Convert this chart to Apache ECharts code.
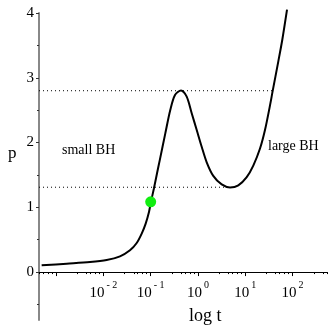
<!DOCTYPE html>
<html><head><meta charset="utf-8">
<script src="https://cdn.jsdelivr.net/npm/echarts@6/dist/echarts.min.js"></script>
<style>html,body{margin:0;padding:0;background:#fff}#c{width:332px;height:332px}</style>
</head><body><div id="c"></div>
<script>
// curve: x = log10(t), y = p
const logT = [-3.305,-2.775,-2.283,-1.930,-1.649,-1.438,-1.296,-1.190,-1.106,-1.036,-0.994,-0.932,-0.867,-0.808,-0.691,-0.586,-0.486,-0.359,-0.239,-0.133,-0.027,0.078,0.184,0.323,0.501,0.677,0.852,1.030,1.169,1.311,1.416,1.522,1.579,1.698,1.782,1.882];
const pVals = [0.104,0.130,0.155,0.186,0.243,0.336,0.449,0.594,0.749,0.929,1.084,1.291,1.523,1.729,2.142,2.503,2.735,2.805,2.709,2.452,2.193,1.935,1.695,1.485,1.353,1.307,1.339,1.466,1.644,1.907,2.193,2.573,2.797,3.254,3.587,4.051];
// dotted levels and where they end (log t)
const levelP = [2.8, 1.31];
const levelEnd = [1.579, 0.677];
// highlighted point
const dotLogT = [-1];
const dotP = [1.084];
// axes
const xMin = -3.361, xMax = 2.727;
const yMin = -0.74, yMax = 4;
const xMajor = [-3, -2, -1, 0, 1, 2];
const xLabeled = [-2, -1, 0, 1, 2];
const xSup = {'-2': '- 2', '-1': '- 1', '0': '0', '1': '1', '2': '2'};
const minorMult = [2.8, 4.4, 5.3, 6.7, 8.2];
const yMajor = [0, 1, 2, 3, 4];
const yMinor = [-0.5, 0.5, 1.5, 2.5, 3.5];

const xMinor = [];
for (let d = -4; d <= 2; d++) for (const m of minorMult) {
  const v = d + Math.log10(m);
  if (v > xMin && v < xMax) xMinor.push(v);
}
const serif = 'Liberation Serif';
const gridTop = 13, gridH = 307;
// x axis sits at p = 0: offset up from the grid bottom
const zeroOffset = -gridH * (0 - yMin) / (yMax - yMin);
const chart = echarts.init(document.getElementById('c'), null, {renderer: 'canvas'});
const curve = logT.map((x, i) => [x, pVals[i]]);
const levelSeries = levelP.map((p, i) => ({
  type: 'line', data: [[xMin, p], [levelEnd[i], p]], symbol: 'none', silent: true,
  lineStyle: {color: '#000', width: 1, type: [1, 3]}, z: 1
}));
chart.setOption({
  animation: false,
  grid: {left: 39, top: gridTop, width: 288, height: gridH, containLabel: false, outerBoundsMode: 'none'},
  xAxis: [{
    type: 'value', min: xMin, max: xMax, position: 'bottom', offset: zeroOffset,
    axisLine: {onZero: false, lineStyle: {color: '#000', width: 1}},
    axisTick: {show: true, length: 4, customValues: xMajor, lineStyle: {color: '#000'}},
    axisLabel: {
      customValues: xLabeled, margin: 8,
      formatter: v => '{b|10}{s|' + xSup[String(Math.round(v))] + '}',
      rich: {
        b: {fontFamily: serif, fontSize: 15, color: '#000', verticalAlign: 'bottom', lineHeight: 20},
        s: {fontFamily: serif, fontSize: 10, color: '#000', verticalAlign: 'top', padding: [0, 0, 0, 2], lineHeight: 12}
      }
    },
    splitLine: {show: false}
  }, {
    type: 'value', min: xMin, max: xMax, position: 'bottom', offset: zeroOffset,
    axisLine: {onZero: false, show: false},
    axisTick: {show: true, length: 2, customValues: xMinor, lineStyle: {color: '#000'}},
    axisLabel: {show: false}, splitLine: {show: false}
  }],
  yAxis: [{
    type: 'value', min: yMin, max: yMax, position: 'left',
    axisLine: {onZero: false, lineStyle: {color: '#888', width: 2}},
    axisTick: {show: true, length: 3, customValues: yMajor, lineStyle: {color: '#333'}},
    axisLabel: {customValues: yMajor, margin: 5, fontFamily: serif, fontSize: 15, color: '#000'},
    splitLine: {show: false}
  }, {
    type: 'value', min: yMin, max: yMax, position: 'left',
    axisLine: {onZero: false, show: false},
    axisTick: {show: true, length: 2, customValues: yMinor, lineStyle: {color: '#333'}},
    axisLabel: {show: false}, splitLine: {show: false}
  }],
  graphic: [
    {type: 'text', left: 8, top: 145, style: {text: 'p', font: '17px "Liberation Serif"', fill: '#000'}},
    {type: 'text', left: 189, top: 307, style: {text: 'log t', font: '18px "Liberation Serif"', fill: '#000'}},
    {type: 'text', left: 62, top: 143, style: {text: 'small BH', font: '14px "Liberation Serif"', fill: '#000'}},
    {type: 'text', left: 268, top: 139, style: {text: 'large BH', font: '14px "Liberation Serif"', fill: '#000'}}
  ],
  series: [
    ...levelSeries,
    {type: 'line', data: curve, smooth: 0.3, symbol: 'none', clip: false,
     lineStyle: {color: '#000', width: 2}, z: 2},
    {type: 'scatter', data: dotLogT.map((x, i) => [x, dotP[i]]), symbolSize: 11,
     itemStyle: {color: '#11ee11', opacity: 1}, z: 3}
  ]
});
</script></body></html>
